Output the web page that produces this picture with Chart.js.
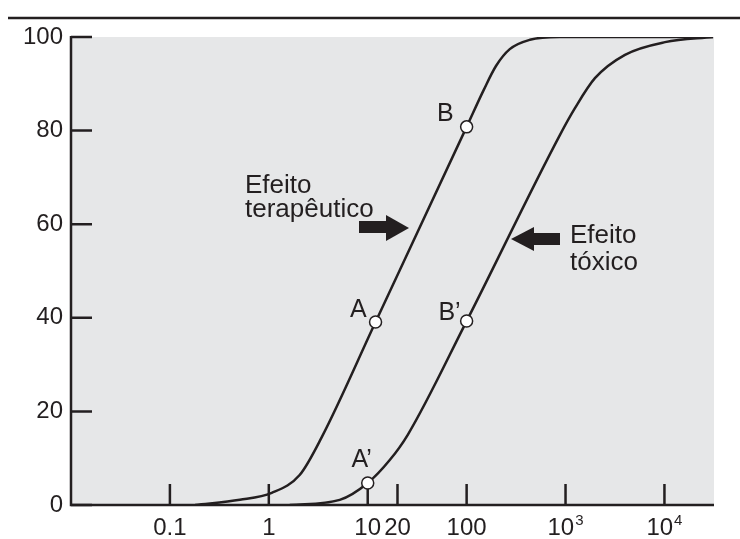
<!DOCTYPE html>
<html>
<head>
<meta charset="utf-8">
<script src="https://cdn.jsdelivr.net/npm/chart.js@4.4.0/dist/chart.umd.min.js"></script>
<style>
html, body { margin: 0; padding: 0; background: #fff; }
#wrap { width: 740px; height: 539px; position: relative; }
</style>
</head>
<body>
<div id="wrap"><canvas id="chart"></canvas></div>
<script>
// dose (log axis) and effect (%)
const doseTicks = [0.1, 1, 10, 20, 100, 1000, 10000];
const doseTickLabels = ['0.1', '1', '10', '20', '100', '10', '10'];
const doseTickSup = ['', '', '', '', '', '3', '4'];
const effectTicks = [0, 20, 40, 60, 80, 100];

const therapeuticDose   = [0.18, 0.51, 1.07, 2.05, 3.43, 12, 100, 149, 198, 273, 436, 875, 31000];
const therapeuticEffect = [0, 1.1, 2.6, 6.4, 14.5, 39.1, 80.8, 88.7, 93.8, 97.4, 99.4, 100, 100];

const toxicDose   = [1.63, 5.21, 10, 16.7, 25.4, 100, 879, 1245, 1982, 3990, 10140, 31000];
const toxicEffect = [0, 1.1, 4.7, 9.6, 15.0, 39.3, 79.1, 84.8, 91.2, 96.2, 98.9, 100];

const pointNames  = ['A', 'B', 'A’', 'B’'];
const pointDose   = [12, 100, 10, 100];
const pointEffect = [39.1, 80.8, 4.7, 39.3];

const INK = '#231f20';
const FONT = '"Liberation Sans", Arial, sans-serif';

const toXY = (xs, ys) => xs.map((x, i) => ({ x, y: ys[i] }));

const decor = {
    id: 'decor',
    beforeDraw(chart) {
        const { ctx, chartArea: a } = chart;
        ctx.save();
        ctx.fillStyle = '#e6e7e8';
        ctx.fillRect(a.left, a.top, a.right - a.left, a.bottom - a.top);
        ctx.restore();
    },
    beforeDatasetsDraw(chart) {
        const { ctx, chartArea: a, scales } = chart;
        ctx.save();
        ctx.strokeStyle = INK;
        ctx.lineWidth = 2.5;
        // axes
        ctx.beginPath();
        ctx.moveTo(a.left, a.top - 1);
        ctx.lineTo(a.left, a.bottom);
        ctx.lineTo(a.right, a.bottom);
        ctx.stroke();
        // inward ticks
        ctx.beginPath();
        scales.y.ticks.forEach(t => {
            const y = scales.y.getPixelForValue(t.value);
            ctx.moveTo(a.left, y);
            ctx.lineTo(a.left + 21, y);
        });
        scales.x.ticks.forEach(t => {
            const x = scales.x.getPixelForValue(t.value);
            ctx.moveTo(x, a.bottom);
            ctx.lineTo(x, a.bottom - 21);
        });
        ctx.stroke();
        ctx.restore();
    },
    afterDraw(chart) {
        const { ctx, chartArea: a, scales } = chart;
        ctx.save();
        // rule at the top
        ctx.strokeStyle = INK;
        ctx.lineWidth = 2.5;
        ctx.beginPath();
        ctx.moveTo(8, 18);
        ctx.lineTo(740, 18);
        ctx.stroke();

        ctx.fillStyle = INK;
        ctx.textBaseline = 'alphabetic';

        // x tick labels, with superscripts for the powers of ten
        const base = '24px ' + FONT, sup = '15px ' + FONT;
        doseTicks.forEach((v, i) => {
            const x = scales.x.getPixelForValue(v);
            ctx.font = base;
            const wb = ctx.measureText(doseTickLabels[i]).width;
            ctx.font = sup;
            const ws = doseTickSup[i] ? ctx.measureText(doseTickSup[i]).width + 1 : 0;
            const x0 = x - (wb + ws) / 2;
            ctx.textAlign = 'left';
            ctx.font = base;
            ctx.fillText(doseTickLabels[i], x0, a.bottom + 30);
            if (doseTickSup[i]) {
                ctx.font = sup;
                ctx.fillText(doseTickSup[i], x0 + wb + 1, a.bottom + 20);
            }
        });

        ctx.font = '26px ' + FONT;
        ctx.textAlign = 'left';
        ctx.fillText('Efeito', 245, 193);
        ctx.fillText('terapêutico', 245, 217);
        ctx.fillText('Efeito', 570, 243);
        ctx.fillText('tóxico', 570, 270);

        // arrows
        ctx.fillRect(359, 221, 29, 12);
        ctx.beginPath();
        ctx.moveTo(386, 215); ctx.lineTo(409, 228); ctx.lineTo(386, 241);
        ctx.closePath(); ctx.fill();
        ctx.fillRect(532, 233, 28, 12);
        ctx.beginPath();
        ctx.moveTo(534, 227); ctx.lineTo(511, 239); ctx.lineTo(534, 251);
        ctx.closePath(); ctx.fill();

        // point labels
        ctx.font = '25px ' + FONT;
        const meta = chart.getDatasetMeta(0);
        const offs = [[-9, -5, 'right'], [-13, -6, 'right'], [-6, -16, 'center'], [-6, -1, 'right']];
        meta.data.forEach((el, i) => {
            ctx.textAlign = offs[i][2];
            ctx.fillText(pointNames[i], el.x + offs[i][0], el.y + offs[i][1]);
        });
        ctx.restore();
    }
};

new Chart(document.getElementById('chart'), {
    type: 'scatter',
    data: {
        datasets: [
            {
                data: toXY(pointDose, pointEffect),
                showLine: false,
                pointRadius: 6,
                pointBackgroundColor: '#fff',
                pointBorderColor: INK,
                pointBorderWidth: 1.5,
                order: 0
            },
            {
                data: toXY(therapeuticDose, therapeuticEffect),
                showLine: true,
                borderColor: INK,
                borderWidth: 2.5,
                pointRadius: 0,
                cubicInterpolationMode: 'monotone',
                order: 1
            },
            {
                data: toXY(toxicDose, toxicEffect),
                showLine: true,
                borderColor: INK,
                borderWidth: 2.5,
                pointRadius: 0,
                cubicInterpolationMode: 'monotone',
                order: 1
            }
        ]
    },
    options: {
        responsive: true,
        maintainAspectRatio: false,
        animation: false,
        layout: { padding: { top: 37, right: 26, bottom: 0, left: 0 } },
        plugins: { legend: { display: false }, tooltip: { enabled: false } },
        scales: {
            x: {
                type: 'logarithmic',
                min: 0.01,
                max: 31700,
                afterBuildTicks: s => { s.ticks = doseTicks.map(v => ({ value: v })); },
                afterFit: s => { s.height = 34; },
                grid: { display: false, drawTicks: false },
                border: { display: false },
                ticks: { display: false }
            },
            y: {
                min: 0,
                max: 100,
                afterBuildTicks: s => { s.ticks = effectTicks.map(v => ({ value: v })); },
                afterFit: s => { s.width = 71; },
                grid: { display: false, drawTicks: false },
                border: { display: false },
                ticks: {
                    padding: 8,
                    color: INK,
                    font: { family: FONT, size: 24 },
                    callback: v => String(v)
                }
            }
        }
    },
    plugins: [decor]
});
</script>
</body>
</html>
